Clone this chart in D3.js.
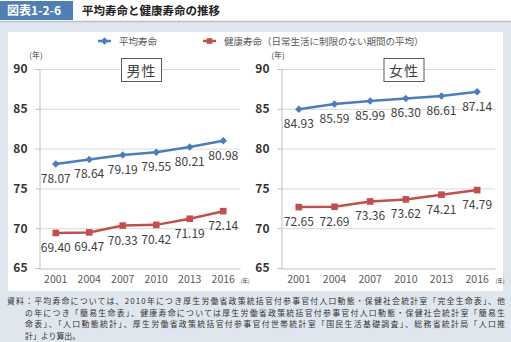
<!DOCTYPE html>
<html>
<head>
<meta charset="utf-8">
<script src="https://cdn.jsdelivr.net/npm/d3@7"></script>
<style>
  html, body { margin: 0; padding: 0; background: #ffffff; }
  svg { display: block; font-family: "Noto Sans CJK JP", "Noto Sans", sans-serif; }
</style>
</head>
<body>
<svg id="chart" width="511" height="342"></svg>
<script>
// Survey years (x categories)
const years = ["2001", "2004", "2007", "2010", "2013", "2016"];

// Life expectancy (平均寿命) and healthy life expectancy (健康寿命)
const maleLife    = [78.07, 78.64, 79.19, 79.55, 80.21, 80.98];
const maleHealth  = [69.40, 69.47, 70.33, 70.42, 71.19, 72.14];
const femaleLife  = [84.93, 85.59, 85.99, 86.30, 86.61, 87.14];
const femaleHealth= [72.65, 72.69, 73.36, 73.62, 74.21, 74.79];

const yTicks = [65, 70, 75, 80, 85, 90];
const panelTitles = ["男性", "女性"];
const legendLabels = ["平均寿命", "健康寿命（日常生活に制限のない期間の平均）"];
const figureLabel = "図表1-2-6";
const figureTitle = "平均寿命と健康寿命の推移";
const sourceLines = [
  "資料：平均寿命については、2010年につき厚生労働省政策統括官付参事官付人口動態・保健社会統計室「完全生命表」、他",
  "の年につき「簡易生命表」、健康寿命については厚生労働省政策統括官付参事官付人口動態・保健社会統計室「簡易生",
  "命表」、「人口動態統計」、厚生労働省政策統括官付参事官付世帯統計室「国民生活基礎調査」、総務省統計局「人口推",
  "計」より算出。"
];

const BLUE = "#4a7ebb";
const RED = "#c0504d";
const TXT = "#404040";

const svg = d3.select("#chart");

// Page background and white chart panel
svg.append("rect").attr("x", 0).attr("y", 0).attr("width", 511).attr("height", 342).attr("fill", "#dfe6ee");
svg.append("rect").attr("x", 0).attr("y", 0).attr("width", 511).attr("height", 21).attr("fill", "#ffffff");
svg.append("line").attr("x1", 0).attr("x2", 511).attr("y1", 21.5).attr("y2", 21.5).attr("stroke", "#b8c0c8").attr("stroke-width", 1.5);
svg.append("rect").attr("x", 8).attr("y", 32).attr("width", 495).attr("height", 259).attr("fill", "#ffffff");

// Header
svg.append("rect").attr("x", 0).attr("y", 1).attr("width", 73).attr("height", 19).attr("fill", "#4f7fb5");
svg.append("text").attr("x", 7).attr("y", 15).attr("fill", "#ffffff").attr("font-size", 12).attr("font-weight", "bold").text(figureLabel);
svg.append("text").attr("x", 82).attr("y", 15).attr("fill", "#222").attr("font-size", 11.5).attr("font-weight", "bold").text(figureTitle);

// Legend
const legend = svg.append("g");
const legItems = [
  {x: 98, color: BLUE, shape: d3.symbolDiamond2, label: legendLabels[0]},
  {x: 203, color: RED, shape: d3.symbolSquare2, label: legendLabels[1]}
];
legItems.forEach(it => {
  legend.append("line").attr("x1", it.x).attr("x2", it.x + 13).attr("y1", 41).attr("y2", 41)
    .attr("stroke", it.color).attr("stroke-width", 2.5);
  legend.append("path").attr("d", d3.symbol().type(it.shape).size(it.shape === d3.symbolSquare2 ? 40 : 34)())
    .attr("transform", `translate(${it.x + 6.5},41)`).attr("fill", it.color);
  legend.append("text").attr("x", it.x + 21).attr("y", 44.5).attr("font-size", 9.5).attr("fill", "#595959").text(it.label);
});

const y = d3.scaleLinear().domain([65, 90]).range([268, 69]);

function drawPanel(x0, x1, title, life, health) {
  const g = svg.append("g");
  const x = d3.scaleBand().domain(years).range([x0, x1]);
  const cx = d => x(d) + x.bandwidth() / 2;

  // horizontal gridlines
  g.selectAll(".grid").data(yTicks.slice(1)).join("line")
    .attr("x1", x0).attr("x2", x1).attr("y1", d => y(d) + 0.5).attr("y2", d => y(d) + 0.5)
    .attr("stroke", "#d9d9d9").attr("stroke-width", 1);

  // y axis
  const yAxis = d3.axisLeft(y).tickValues(yTicks).tickSize(4).tickPadding(8);
  const ya = g.append("g").attr("transform", `translate(${x0 + 0.5},0)`).call(yAxis);
  ya.select(".domain").attr("stroke", "#bfbfbf");
  ya.selectAll(".tick line").attr("stroke", "#bfbfbf");
  ya.selectAll(".tick text").attr("font-size", 12).attr("font-weight", "bold").attr("fill", "#333")
    .attr("font-family", "'Noto Sans CJK JP', sans-serif");

  // x axis
  const xAxis = d3.axisBottom(x).tickSize(0).tickPadding(7);
  const xa = g.append("g").attr("transform", `translate(0,${y(65) + 0.5})`).call(xAxis);
  xa.select(".domain").attr("stroke", "#bfbfbf");
  xa.selectAll(".tick text").attr("font-size", 10.5).attr("fill", "#595959")
    .attr("font-family", "'Noto Sans CJK JP', sans-serif");

  // unit labels
  g.append("text").attr("x", x0 - 3).attr("y", 58).attr("text-anchor", "middle")
    .attr("font-size", 8).attr("fill", TXT).text("(年)");
  g.append("text").attr("x", x1 + 5).attr("y", 283).attr("text-anchor", "middle")
    .attr("font-size", 5.5).attr("fill", TXT).text("(年)");

  // series
  const series = [
    {vals: life, color: BLUE, shape: d3.symbolDiamond2, size: 36},
    {vals: health, color: RED, shape: d3.symbolSquare2, size: 56}
  ];
  series.forEach(s => {
    const line = d3.line().x((d, i) => cx(years[i])).y(d => y(d));
    g.append("path").datum(s.vals).attr("d", line).attr("fill", "none")
      .attr("stroke", s.color).attr("stroke-width", 2.5);
    g.selectAll(null).data(s.vals).join("path")
      .attr("d", d3.symbol().type(s.shape).size(s.size)())
      .attr("transform", (d, i) => `translate(${cx(years[i])},${y(d)})`)
      .attr("fill", s.color);
    g.selectAll(null).data(s.vals).join("text")
      .attr("x", (d, i) => cx(years[i]))
      .attr("y", d => y(d) + 19)
      .attr("text-anchor", "middle").attr("font-size", 12).attr("fill", TXT)
      .text(d => d.toFixed(2));
  });

  // panel title box
  const mid = (x0 + x1) / 2 + (title === "男性" ? 2 : 16);
  g.append("rect").attr("x", mid - 20).attr("y", 58.5).attr("width", 40).attr("height", 23)
    .attr("fill", "#ffffff").attr("stroke", "#595959").attr("stroke-width", 1);
  g.append("text").attr("x", mid).attr("y", 75.5).attr("text-anchor", "middle")
    .attr("font-size", 14).attr("fill", TXT).attr("letter-spacing", 1).text(title);
}

drawPanel(39, 240, panelTitles[0], maleLife, maleHealth);
drawPanel(281, 495, panelTitles[1], femaleLife, femaleHealth);

// Source note
const note = svg.append("g").attr("font-size", 7.9).attr("fill", "#333");
sourceLines.forEach((t, i) => {
  const tx = note.append("text").attr("x", i === 0 ? 7 : 25).attr("y", 304 + i * 11.6).text(t);
  if (i < 3) tx.attr("textLength", i === 0 ? 498 : 480).attr("lengthAdjust", "spacing");
});
</script>
</body>
</html>
